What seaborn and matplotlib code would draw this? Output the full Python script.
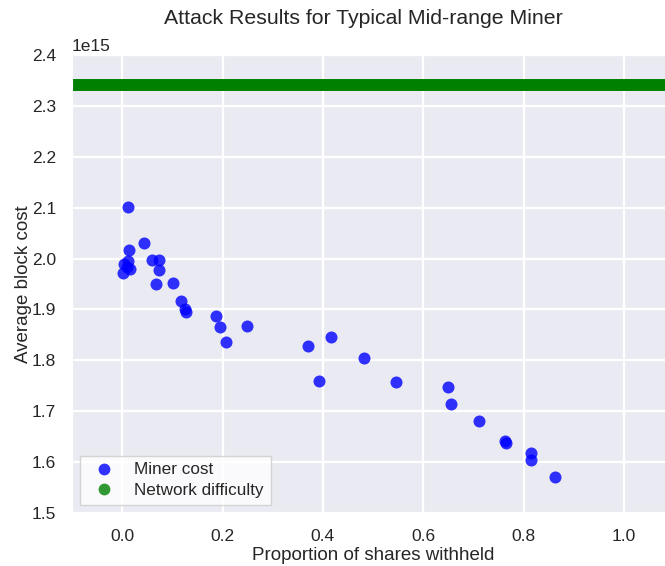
import numpy as np
import pandas as pd
import matplotlib
matplotlib.use("Agg")
import matplotlib.pyplot as plt
import seaborn as sns
from matplotlib.lines import Line2D

# proportion of shares withheld
withheld = [0.012, 0.044, 0.013, 0.059, 0.073, 0.011, 0.004, 0.009, 0.015, 0.001,
            0.073, 0.067, 0.102, 0.117, 0.125, 0.127, 0.187, 0.195, 0.249, 0.207,
            0.370, 0.416, 0.393, 0.482, 0.546, 0.649, 0.655, 0.711, 0.763, 0.765,
            0.814, 0.815, 0.863]
# average block cost (x 1e15)
block_cost = [2.101, 2.031, 2.017, 1.997, 1.997, 1.995, 1.989, 1.984, 1.979, 1.972,
              1.977, 1.950, 1.951, 1.917, 1.900, 1.894, 1.888, 1.866, 1.867, 1.837,
              1.829, 1.845, 1.759, 1.804, 1.757, 1.748, 1.715, 1.680, 1.641, 1.638,
              1.617, 1.605, 1.571]
network_difficulty = 2.341e15

df = pd.DataFrame({"withheld": withheld,
                   "cost": np.array(block_cost) * 1e15})

sns.set_style("darkgrid")
plt.rcParams["font.family"] = ["Liberation Sans", "DejaVu Sans"]
plt.rcParams["grid.linewidth"] = 1.6

fig = plt.figure(figsize=(6.65, 5.66), dpi=100)
ax = fig.add_axes([72 / 665, 53 / 566, 602 / 665, 458 / 566])

ax.axhline(network_difficulty, color="green", lw=8.6)
sns.scatterplot(data=df, x="withheld", y="cost", ax=ax, color="blue", alpha=0.8,
                s=75, linewidth=0)

ax.set_xlim(-0.1, 1.1)
ax.set_ylim(1.5e15, 2.4e15)
ax.set_xticks([0.0, 0.2, 0.4, 0.6, 0.8, 1.0])
ax.set_yticks(np.arange(1.5, 2.41, 0.1) * 1e15)
ax.tick_params(labelsize=12.5, colors="#262626", pad=8)
ax.yaxis.get_offset_text().set_fontsize(12.5)

ax.set_xlabel("Proportion of shares withheld", fontsize=13.5, color="#262626",
              labelpad=2)
ax.set_ylabel("Average block cost", fontsize=13.5, color="#262626", labelpad=0)
fig.text(363 / 665, 1 - 18 / 566, "Attack Results for Typical Mid-range Miner",
         ha="center", va="center", fontsize=15.3, color="#262626")

handles = [
    Line2D([], [], marker="o", ls="", color="blue", alpha=0.8, markersize=8.5,
           markeredgewidth=0, label="Miner cost"),
    Line2D([], [], marker="o", ls="", color="green", alpha=0.8, markersize=8.5,
           markeredgewidth=0, label="Network difficulty"),
]
leg = ax.legend(handles=handles, loc="lower left", frameon=True, fancybox=False,
                fontsize=12.3, borderaxespad=0.45, handletextpad=0.8,
                labelspacing=0.35)
leg.get_frame().set_facecolor("white")
leg.get_frame().set_edgecolor("#cccccc")

fig.savefig("out.png", dpi=100)
